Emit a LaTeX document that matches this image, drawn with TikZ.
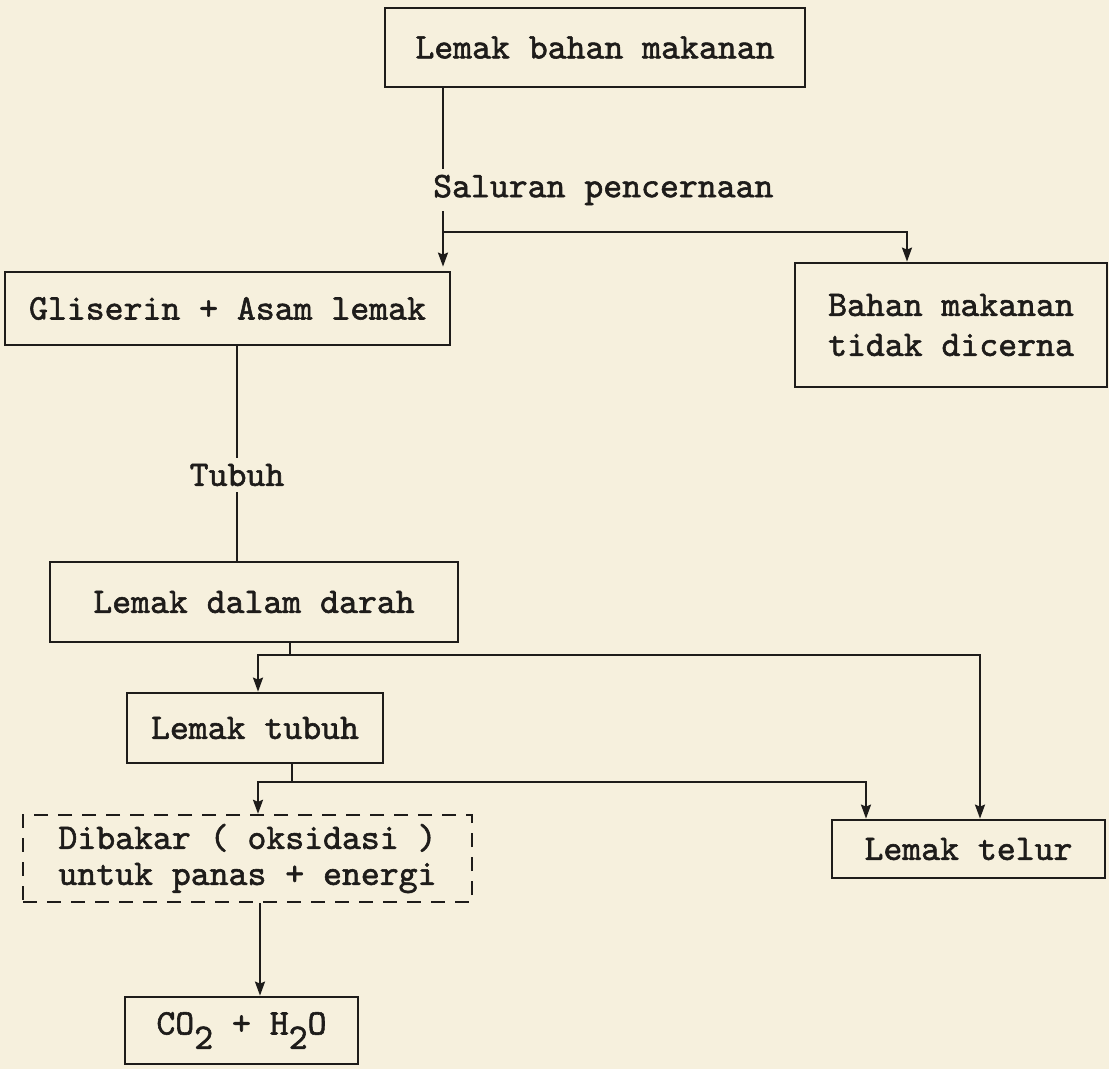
\documentclass[tikz,border=0pt]{standalone}
\usepackage{fontspec}
\usetikzlibrary{arrows.meta}
\definecolor{paper}{RGB}{246,240,221}
\definecolor{ink}{RGB}{30,28,26}
\newfontfamily\twfam{lmmono10-regular.otf}[FakeBold=1.6]
\newcommand\twfont{\fontsize{36}{36}\selectfont\twfam\bfseries}
\newcommand\lowsub[1]{\raisebox{-0.4em}{#1}}
\begin{document}
\begin{tikzpicture}[x=1pt,y=-1pt,
  box/.style={draw=ink, line width=2.8pt, inner sep=0pt, font=\twfont, text=ink},
  dbox/.style={box, dashed, dash pattern=on 14pt off 10pt, line width=2.4pt},
  lbl/.style={inner sep=6pt, font=\twfont, text=ink},
  conn/.style={draw=ink, line width=2pt},
  arr/.style={conn, -{Stealth[length=14pt,width=10pt,inset=2pt]}}]
\fill[paper] (0,0) rectangle (1109,1069);
\useasboundingbox (0,0) rectangle (1109,1069);

% boxes
\node[box, minimum width=420pt, minimum height=79pt] (b1) at (595,47.5) {Lemak bahan makanan};
\node[box, minimum width=445pt, minimum height=73pt] (b2) at (227.5,308.5) {Gliserin + Asam lemak};
\node[box, minimum width=312pt, minimum height=124pt, align=left] (b3) at (951,325) {Bahan makanan\\[4pt]tidak dicerna};
\node[box, minimum width=408pt, minimum height=80pt] (b4) at (254,602) {Lemak dalam darah};
\node[box, minimum width=256pt, minimum height=70pt] (b5) at (255,728) {Lemak tubuh};
\node[dbox, minimum width=449pt, minimum height=87pt, align=left] (b6) at (247.5,858.5) {Dibakar ( oksidasi )\\untuk panas + energi};
\node[box, minimum width=273pt, minimum height=58pt] (b7) at (968.5,849) {Lemak telur};
\node[box, minimum width=233pt, minimum height=67pt] (b8) at (241.5,1030.5) {CO\lowsub{2} + H\lowsub{2}O};

% labels
\node[lbl, anchor=west] (sal) at (427,190) {Saluran pencernaan};
\node[lbl] (tub) at (237,475) {Tubuh};

% junctions
\coordinate (j1) at (443,232);
\coordinate (j1r) at (907,232);
\coordinate (j2) at (290,655);
\coordinate (j2l) at (258,655);
\coordinate (j2r) at (980,655);
\coordinate (j3) at (292,782);
\coordinate (j3l) at (258,782);
\coordinate (j3r) at (866,782);
\coordinate (j4) at (260,950);

% connectors
\draw[conn] (b1.south -| j1) -- (sal.north -| j1);
\draw[conn] (sal.south -| j1) -- (j1);
\draw[arr] (j1) -- ([yshift=4pt]b2.north -| j1);
\draw[arr] (j1) -- (j1r) -- (b3.north -| j1r);

\draw[conn] (b2.south -| tub) -- (tub.north);
\draw[conn] (tub.south) -- (b4.north -| tub);

\draw[conn] (b4.south -| j2) -- (j2);
\draw[arr] (j2) -- (j2l) -- (b5.north -| j2l);
\draw[arr] (j2) -- (j2r) -- (b7.north -| j2r);

\draw[conn] (b5.south -| j3) -- (j3);
\draw[arr] (j3) -- (j3l) -- (b6.north -| j3l);
\draw[arr] (j3) -- (j3r) -- (b7.north -| j3r);

\draw[arr] (b6.south -| j4) -- (b8.north -| j4);
\end{tikzpicture}
\end{document}
